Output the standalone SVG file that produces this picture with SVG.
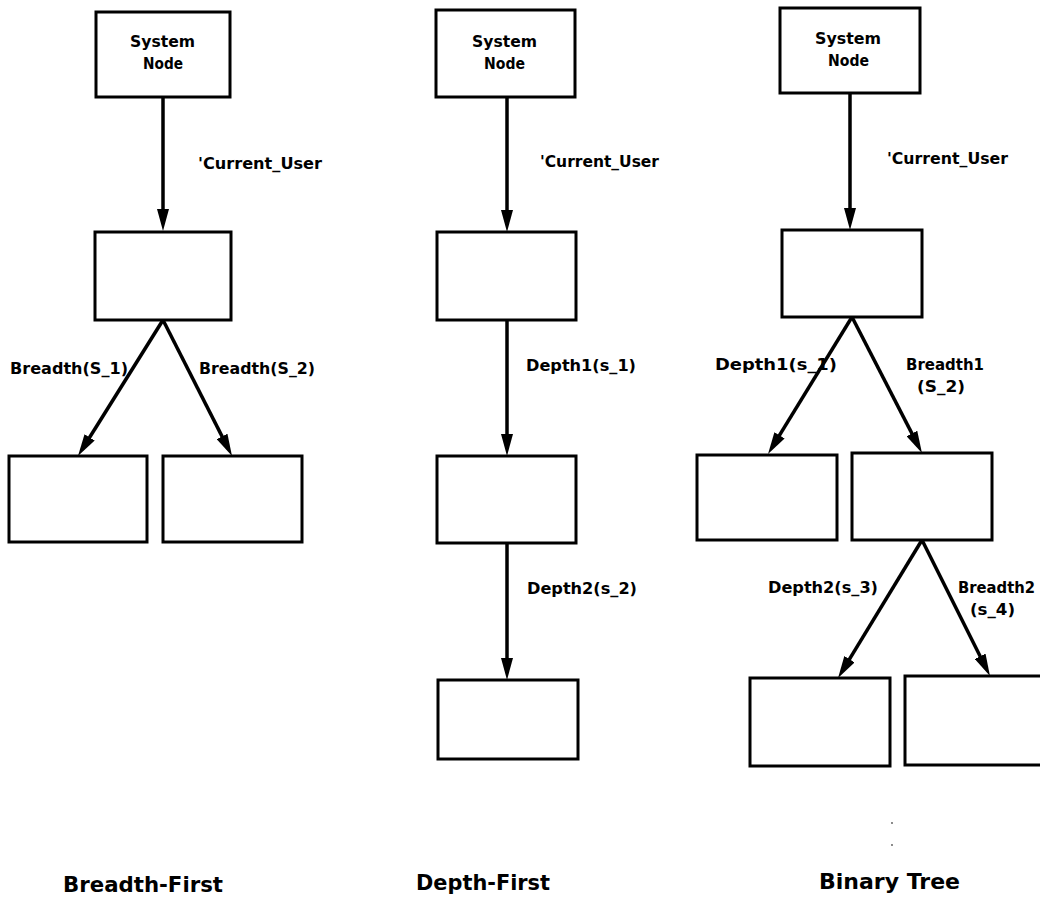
<svg xmlns="http://www.w3.org/2000/svg" width="1040" height="899" viewBox="0 0 1040 899">
<defs>
<marker id="ah" viewBox="0 0 22 12" markerWidth="22" markerHeight="12" markerUnits="userSpaceOnUse" refX="14" refY="6" orient="auto">
<path d="M0,0 L22,6 L0,12 z" fill="#000"/>
</marker>
<style>
.box{fill:#fff;stroke:#000;stroke-width:3}
.edge{stroke:#000;stroke-width:3.5;fill:none;marker-end:url(#ah)}
.lbl{font-family:"DejaVu Sans","Liberation Sans",sans-serif;font-weight:bold;font-size:16px;fill:#000}
.nlbl{font-family:"DejaVu Sans","Liberation Sans",sans-serif;font-weight:bold;font-size:16px;fill:#000}
.ttl{font-family:"DejaVu Sans","Liberation Sans",sans-serif;font-weight:bold;font-size:21px;fill:#000}
</style>
</defs>
<rect width="1040" height="899" fill="#fff"/>

<g id="connectors">
<line class="edge" x1="163" y1="97" x2="163" y2="223"/>
<line class="edge" x1="163" y1="320" x2="82.2" y2="449.2"/>
<line class="edge" x1="163" y1="320" x2="228.4" y2="448.9"/>
<line class="edge" x1="507" y1="97" x2="507" y2="224"/>
<line class="edge" x1="507" y1="320" x2="507" y2="448"/>
<line class="edge" x1="507" y1="543" x2="507" y2="672"/>
<line class="edge" x1="850" y1="93" x2="850" y2="222"/>
<line class="edge" x1="852" y1="317" x2="772.2" y2="447.2"/>
<line class="edge" x1="852" y1="317" x2="918.3" y2="445.9"/>
<line class="edge" x1="922" y1="540" x2="842.2" y2="671.2"/>
<line class="edge" x1="922" y1="540" x2="986.4" y2="668.8"/>
</g>

<g id="edge-labels">
<text class="lbl" x="198" y="169" textLength="124" lengthAdjust="spacingAndGlyphs">'Current_User</text>
<text class="lbl" x="10" y="374" textLength="118" lengthAdjust="spacingAndGlyphs">Breadth(S_1)</text>
<text class="lbl" x="199" y="374" textLength="116" lengthAdjust="spacingAndGlyphs">Breadth(S_2)</text>
<text class="lbl" x="540" y="167" textLength="119" lengthAdjust="spacingAndGlyphs">'Current_User</text>
<text class="lbl" x="526" y="371" textLength="110" lengthAdjust="spacingAndGlyphs">Depth1(s_1)</text>
<text class="lbl" x="527" y="594" textLength="110" lengthAdjust="spacingAndGlyphs">Depth2(s_2)</text>
<text class="lbl" x="887" y="164" textLength="121" lengthAdjust="spacingAndGlyphs">'Current_User</text>
<text class="lbl" x="715" y="370" textLength="122" lengthAdjust="spacingAndGlyphs">Depth1(s_1)</text>
<text class="lbl" x="906" y="370" textLength="78" lengthAdjust="spacingAndGlyphs">Breadth1</text>
<text class="lbl" x="917" y="392" textLength="48" lengthAdjust="spacingAndGlyphs">(S_2)</text>
<text class="lbl" x="768" y="593" textLength="110" lengthAdjust="spacingAndGlyphs">Depth2(s_3)</text>
<text class="lbl" x="958" y="593" textLength="77" lengthAdjust="spacingAndGlyphs">Breadth2</text>
<text class="lbl" x="970" y="615" textLength="45" lengthAdjust="spacingAndGlyphs">(s_4)</text>
</g>

<g id="bf-root"><rect class="box" x="96" y="12" width="134" height="85"/><text class="nlbl" x="130" y="47" textLength="65" lengthAdjust="spacingAndGlyphs">System</text><text class="nlbl" x="143" y="69" textLength="40" lengthAdjust="spacingAndGlyphs">Node</text></g>
<g id="bf-user"><rect class="box" x="95" y="232" width="136" height="88"/></g>
<g id="bf-s1"><rect class="box" x="9" y="456" width="138" height="86"/></g>
<g id="bf-s2"><rect class="box" x="163" y="456" width="139" height="86"/></g>

<g id="df-root"><rect class="box" x="436" y="10" width="139" height="87"/><text class="nlbl" x="472" y="47" textLength="65" lengthAdjust="spacingAndGlyphs">System</text><text class="nlbl" x="484" y="69" textLength="41" lengthAdjust="spacingAndGlyphs">Node</text></g>
<g id="df-user"><rect class="box" x="437" y="232" width="139" height="88"/></g>
<g id="df-s1"><rect class="box" x="437" y="456" width="139" height="87"/></g>
<g id="df-s2"><rect class="box" x="438" y="680" width="140" height="79"/></g>

<g id="bt-root"><rect class="box" x="780" y="8" width="140" height="85"/><text class="nlbl" x="815" y="44" textLength="66" lengthAdjust="spacingAndGlyphs">System</text><text class="nlbl" x="828" y="66" textLength="41" lengthAdjust="spacingAndGlyphs">Node</text></g>
<g id="bt-user"><rect class="box" x="782" y="230" width="140" height="87"/></g>
<g id="bt-s1"><rect class="box" x="697" y="455" width="140" height="85"/></g>
<g id="bt-s2"><rect class="box" x="852" y="453" width="140" height="87"/></g>
<g id="bt-s3"><rect class="box" x="750" y="678" width="140" height="88"/></g>
<g id="bt-s4"><rect class="box" x="905" y="676" width="142" height="89"/></g>

<g id="titles">
<text class="ttl" x="63" y="892" textLength="160" lengthAdjust="spacingAndGlyphs">Breadth-First</text>
<text class="ttl" x="416" y="890" textLength="134" lengthAdjust="spacingAndGlyphs">Depth-First</text>
<text class="ttl" x="819" y="889" textLength="141" lengthAdjust="spacingAndGlyphs">Binary Tree</text>
</g>
<circle cx="892" cy="823" r="0.9" fill="#555"/>
<circle cx="892" cy="845" r="0.9" fill="#555"/>
</svg>
